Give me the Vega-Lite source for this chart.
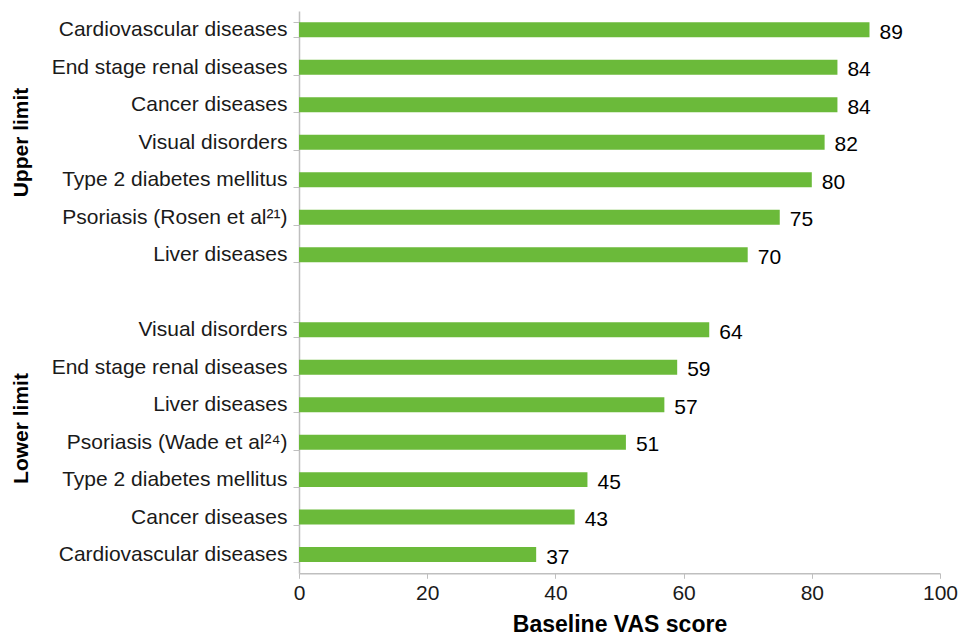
{
  "$schema": "https://vega.github.io/schema/vega-lite/v6.json",
  "padding": {"top": 0, "left": 10, "right": 0, "bottom": 0},
  "background": "white",
  "bounds": "flush",
  "spacing": 0,
  "data": {"values": [
    {"group": "Upper limit", "rank": 1, "disease": "Cardiovascular diseases", "score": 89},
    {"group": "Upper limit", "rank": 2, "disease": "End stage renal diseases", "score": 84},
    {"group": "Upper limit", "rank": 3, "disease": "Cancer diseases", "score": 84},
    {"group": "Upper limit", "rank": 4, "disease": "Visual disorders", "score": 82},
    {"group": "Upper limit", "rank": 5, "disease": "Type 2 diabetes mellitus", "score": 80},
    {"group": "Upper limit", "rank": 6, "disease": "Psoriasis (Rosen et al²¹)", "score": 75},
    {"group": "Upper limit", "rank": 7, "disease": "Liver diseases", "score": 70},
    {"group": "Lower limit", "rank": 1, "disease": "Visual disorders", "score": 64},
    {"group": "Lower limit", "rank": 2, "disease": "End stage renal diseases", "score": 59},
    {"group": "Lower limit", "rank": 3, "disease": "Liver diseases", "score": 57},
    {"group": "Lower limit", "rank": 4, "disease": "Psoriasis (Wade et al²⁴)", "score": 51},
    {"group": "Lower limit", "rank": 5, "disease": "Type 2 diabetes mellitus", "score": 45},
    {"group": "Lower limit", "rank": 6, "disease": "Cancer diseases", "score": 43},
    {"group": "Lower limit", "rank": 7, "disease": "Cardiovascular diseases", "score": 37}
  ]},
  "vconcat": [
    {
      "width": 641,
      "height": 300,
      "transform": [{"filter": "datum.group == 'Upper limit'"}],
      "encoding": {
        "y": {
          "field": "disease", "type": "nominal",
          "sort": {"field": "rank", "op": "min", "order": "ascending"},
          "scale": {"paddingInner": 0.6, "paddingOuter": 0.8, "align": 0.1875},
          "axis": {
            "title": "Upper limit", "titleY": 131, "titleX": -268, "titleAngle": -90,
            "titleAlign": "center", "titleBaseline": "bottom",
            "titleFont": "Liberation Sans", "titleFontSize": 21, "titleFontWeight": "bold", "titleColor": "#000000",
            "tickBand": "extent", "tickSize": 6, "tickColor": "#BFBFBF",
            "domainColor": "#BFBFBF", "domainWidth": 1.5, "labelPadding": 6,
            "labelFont": "Liberation Sans", "labelFontSize": 21, "labelColor": "#1a1a1a",
            "labelLimit": 400
          }
        },
        "x": {
          "field": "score", "type": "quantitative",
          "scale": {"domain": [0, 100]},
          "axis": null
        }
      },
      "layer": [
        {"mark": {"type": "bar", "color": "#6BBA3A"}},
        {"mark": {"type": "text", "align": "left", "baseline": "middle", "dx": 10, "dy": 3,
                  "font": "Liberation Sans", "fontSize": 21, "color": "#000000"},
         "encoding": {"text": {"field": "score", "type": "quantitative"}}}
      ]
    },
    {
      "width": 641,
      "height": 262.3,
      "transform": [{"filter": "datum.group == 'Lower limit'"}],
      "encoding": {
        "y": {
          "field": "disease", "type": "nominal",
          "sort": {"field": "rank", "op": "min", "order": "ascending"},
          "scale": {"paddingInner": 0.6, "paddingOuter": 0.3},
          "axis": {
            "title": "Lower limit", "titleY": 117, "titleX": -268, "titleAngle": -90,
            "titleAlign": "center", "titleBaseline": "bottom",
            "titleFont": "Liberation Sans", "titleFontSize": 21, "titleFontWeight": "bold", "titleColor": "#000000",
            "tickBand": "extent", "tickSize": 6, "tickColor": "#BFBFBF",
            "domainColor": "#BFBFBF", "domainWidth": 1.5, "labelPadding": 6,
            "labelFont": "Liberation Sans", "labelFontSize": 21, "labelColor": "#1a1a1a",
            "labelLimit": 400
          }
        },
        "x": {
          "field": "score", "type": "quantitative",
          "scale": {"domain": [0, 100]},
          "axis": {
            "values": [0, 20, 40, 60, 80, 100], "grid": false, "title": "Baseline VAS score",
            "labelFlush": false,
            "tickColor": "#BFBFBF", "tickSize": 5, "domainColor": "#BFBFBF", "domainWidth": 1.5,
            "labelFont": "Liberation Sans", "labelFontSize": 21, "labelColor": "#1a1a1a",
            "labelPadding": 4,
            "titleFont": "Liberation Sans", "titleFontSize": 23, "titleFontWeight": "bold",
            "titleColor": "#000000", "titlePadding": 10
          }
        }
      },
      "layer": [
        {"mark": {"type": "bar", "color": "#6BBA3A"}},
        {"mark": {"type": "text", "align": "left", "baseline": "middle", "dx": 10, "dy": 3,
                  "font": "Liberation Sans", "fontSize": 21, "color": "#000000"},
         "encoding": {"text": {"field": "score", "type": "quantitative"}}}
      ]
    }
  ],
  "config": {"view": {"stroke": null}}
}
